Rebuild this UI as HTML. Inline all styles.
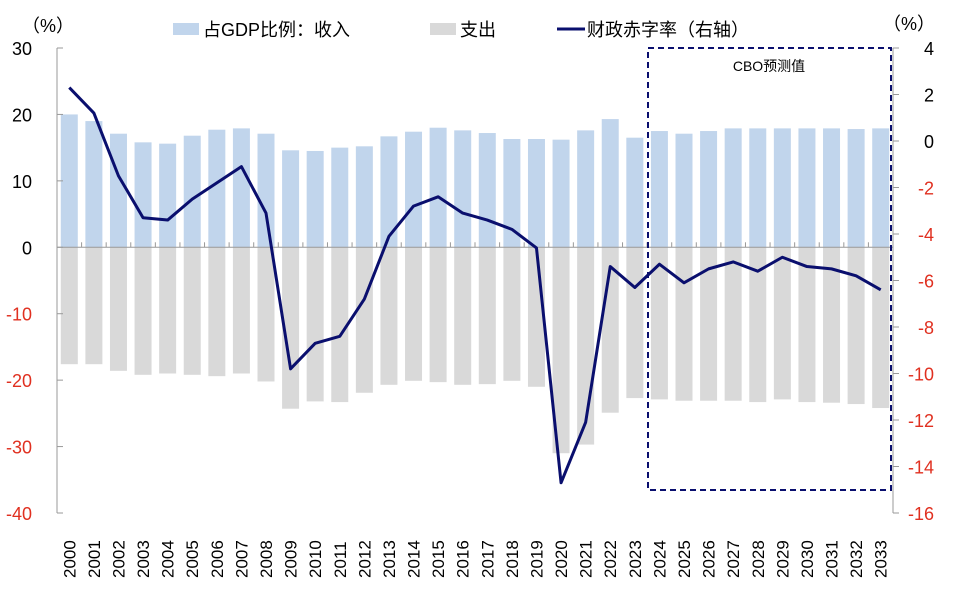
<!DOCTYPE html>
<html><head><meta charset="utf-8"><style>
body{margin:0;background:#fff;}
svg text{font-family:"Liberation Sans","Noto Sans CJK SC",sans-serif;}
</style></head><body>
<svg id="chart" width="963" height="586" xmlns="http://www.w3.org/2000/svg">
<g id="bars"></g><g id="axes"></g><g id="line"></g>
<g>
<rect x="173" y="23" width="26" height="12" fill="#c1d5ec"/>
<text x="203" y="36" font-size="18">占GDP比例：收入</text>
<rect x="430" y="23" width="26" height="12" fill="#d9d9d9"/>
<text x="460" y="36" font-size="18">支出</text>
<line x1="557" y1="29" x2="585" y2="29" stroke="#0a0f6e" stroke-width="3"/>
<text x="587" y="36" font-size="18">财政赤字率（右轴）</text>
</g>
<text x="22" y="32" font-size="18">（%）</text>
<text x="883" y="30" font-size="18">（%）</text>
<rect x="648" y="48" width="243" height="442" fill="none" stroke="#0a0f6e" stroke-width="2" stroke-dasharray="6,4"/>
<text x="769" y="71" font-size="14" text-anchor="middle">CBO预测值</text>
</svg>
<script>
const years=[2000,2001,2002,2003,2004,2005,2006,2007,2008,2009,2010,2011,2012,2013,2014,2015,2016,2017,2018,2019,2020,2021,2022,2023,2024,2025,2026,2027,2028,2029,2030,2031,2032,2033];
const revenue=[20.0,19.0,17.1,15.8,15.6,16.8,17.7,17.9,17.1,14.6,14.5,15.0,15.2,16.7,17.4,18.0,17.6,17.2,16.3,16.3,16.2,17.6,19.3,16.5,17.5,17.1,17.5,17.9,17.9,17.9,17.9,17.9,17.8,17.9];
const spending=[-17.6,-17.6,-18.6,-19.2,-19.0,-19.2,-19.4,-19.0,-20.2,-24.3,-23.2,-23.3,-21.9,-20.7,-20.1,-20.3,-20.7,-20.6,-20.1,-21.0,-31.0,-29.7,-24.9,-22.7,-22.9,-23.1,-23.1,-23.1,-23.3,-22.9,-23.3,-23.4,-23.6,-24.2];
const deficit=[2.3,1.2,-1.5,-3.3,-3.4,-2.5,-1.8,-1.1,-3.1,-9.8,-8.7,-8.4,-6.8,-4.1,-2.8,-2.4,-3.1,-3.4,-3.8,-4.6,-14.7,-12.1,-5.4,-6.3,-5.3,-6.1,-5.5,-5.2,-5.6,-5.0,-5.4,-5.5,-5.8,-6.4];
const leftTicks=[30,20,10,0,-10,-20,-30,-40];
const rightTicks=[4,2,0,-2,-4,-6,-8,-10,-12,-14,-16];
const NS='http://www.w3.org/2000/svg';
const X0=57,X1=893,Y0=48,Y1=513;
const step=(X1-X0)/years.length;
const xc=i=>X0+step*(i+0.5);
const yL=v=>Y0+(30-v)/70*(Y1-Y0);
const yR=v=>Y0+(4-v)/20*(Y1-Y0);
function mk(tag,attrs,parent){const e=document.createElementNS(NS,tag);for(const k in attrs)e.setAttribute(k,attrs[k]);document.getElementById(parent).appendChild(e);return e;}
const bw=17;
years.forEach((y,i)=>{
 let r=mk('rect',{x:xc(i)-bw/2,y:yL(revenue[i]),width:bw,height:yL(0)-yL(revenue[i]),fill:'#c1d5ec'},'bars');
 
 
 let s=mk('rect',{x:xc(i)-bw/2,y:yL(0),width:bw,height:yL(spending[i])-yL(0),fill:'#d9d9d9'},'bars');
 
 
 let t=mk('text',{transform:`translate(${xc(i)+6},578) rotate(-90)`,'font-size':17},'axes');
 t.textContent=y;
 
 
 let tk=mk('line',{x1:X0+step*i,x2:X0+step*i,y1:yL(0),y2:yL(0)-5,stroke:'#999'},'axes');
 
 
});
let ax=mk('line',{x1:X0,x2:X1,y1:yL(0),y2:yL(0),stroke:'#999'},'axes');


let la=mk('line',{x1:X0,x2:X0,y1:Y0,y2:Y1,stroke:'#999'},'axes');


let ra=mk('line',{x1:X1,x2:X1,y1:Y0,y2:Y1,stroke:'#999'},'axes');


leftTicks.forEach(v=>{
 let t=mk('text',{x:X0-25,y:yL(v)+7,'font-size':18,'text-anchor':'end',fill:v<0?'#e03020':'#000'},'axes');
 t.textContent=v;
 
 
 let l=mk('line',{x1:X0,x2:X0+6,y1:yL(v),y2:yL(v),stroke:'#999'},'axes');
 
 
});
rightTicks.forEach(v=>{
 let t=mk('text',{x:X1+41,y:yR(v)+7,'font-size':18,'text-anchor':'end',fill:v<0?'#e03020':'#000'},'axes');
 t.textContent=v;
 
 
 let l=mk('line',{x1:X1,x2:X1+6,y1:yR(v),y2:yR(v),stroke:'#999'},'axes');
 
 
});
let p=mk('polyline',{points:deficit.map((v,i)=>xc(i)+','+yR(v)).join(' '),fill:'none',stroke:'#0a0f6e','stroke-width':3,'stroke-linejoin':'round'},'line');


</script>
</body></html>
